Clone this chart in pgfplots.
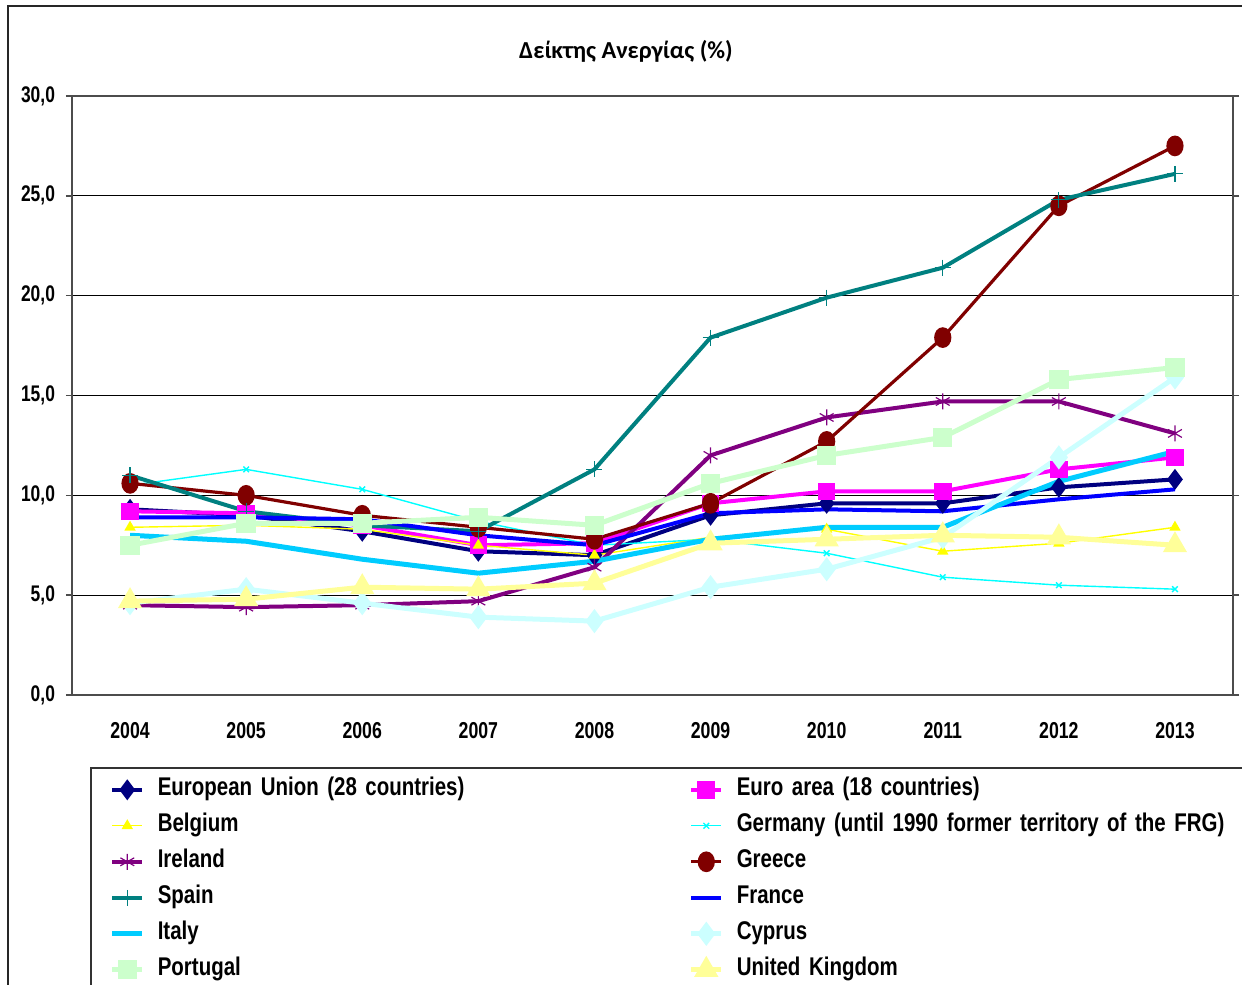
\documentclass[border=0pt]{standalone}
\usepackage{fontspec}
\setmainfont{Liberation Sans}
\newfontfamily\tickfont{Liberation Sans}[FakeStretch=0.77]
\newfontfamily\legfont{Liberation Sans}[FakeStretch=0.8]
\newfontfamily\titlefont{Carlito}
\usepackage{pgfplots}
\pgfplotsset{compat=1.18}
\definecolor{cEU}{RGB}{0,0,128}
\definecolor{cEA}{RGB}{255,0,255}
\definecolor{cBE}{RGB}{255,255,0}
\definecolor{cDE}{RGB}{0,255,255}
\definecolor{cIE}{RGB}{128,0,128}
\definecolor{cEL}{RGB}{128,0,0}
\definecolor{cES}{RGB}{0,128,128}
\definecolor{cFR}{RGB}{0,0,255}
\definecolor{cIT}{RGB}{0,204,255}
\definecolor{cCY}{RGB}{204,255,255}
\definecolor{cPT}{RGB}{204,255,204}
\definecolor{cUK}{RGB}{255,255,153}
\begin{document}
\begin{tikzpicture}
\path[use as bounding box] (0,0) rectangle (621pt,492.5pt);
\draw[line width=1pt, black!85] (4pt,-20pt) rectangle (700pt,489.5pt);
\node[font=\titlefont\bfseries\fontsize{12.2}{14}\selectfont] at (313pt,467pt) {Δείκτης Ανεργίας (\%)};
\begin{axis}[
  at={(36pt,145pt)}, anchor=south west,
  scale only axis, width=580.5pt, height=299.5pt,
  xmin=-0.5, xmax=9.5, ymin=0, ymax=30,
  xtick={0,...,9}, xticklabels={2004,2005,2006,2007,2008,2009,2010,2011,2012,2013},
  xtick style={draw=none},
  minor xtick={-0.5,0.5,...,9.5},
  minor tick length=3pt, major tick length=3pt, tick align=outside,
  ytick={0,5,...,30},
  ymajorgrids, grid style={black, line width=0.5pt},
  axis line style={gray!60!black, line width=0.8pt},
  tick style={gray!60!black, line width=0.8pt},
  xticklabel style={font=\tickfont\bfseries\fontsize{11.5}{13}\selectfont, yshift=-7pt},
  yticklabel style={font=\tickfont\bfseries\fontsize{11.3}{13}\selectfont, xshift=-2pt,
    /pgf/number format/fixed, /pgf/number format/fixed zerofill,
    /pgf/number format/precision=1, /pgf/number format/use comma,
    /pgf/number format/assume math mode=true},
  legend style={at={(0.0155,-0.1202)}, anchor=north west, draw=black!80, line width=0.8pt,
    fill=white, inner xsep=9.5pt, inner ysep=2pt, legend columns=2,
    font=\legfont\bfseries\fontsize{12.8}{15}\selectfont,
    nodes={inner sep=0pt, text height=12pt, text depth=6pt, text width=258pt, align=left},
    /tikz/every odd column/.append style={column sep=6.5pt},
    /tikz/every even column/.append style={column sep=7.5pt}},
  legend cell align=left,
  legend image code/.code={\draw[mark repeat=2, mark phase=2, #1] plot coordinates {(0pt,0pt) (7.5pt,0pt) (15pt,0pt)};},
]
\addplot[cEU, line width=2pt, mark=diamond*, mark size=3.6pt] coordinates {(0,9.3) (1,9.0) (2,8.2) (3,7.2) (4,7.0) (5,9.0) (6,9.6) (7,9.6) (8,10.4) (9,10.8)};
\addlegendentry{European Union (28 countries)}
\addplot[cEA, line width=2pt, mark=square*, mark size=3.4pt] coordinates {(0,9.2) (1,9.1) (2,8.5) (3,7.5) (4,7.6) (5,9.6) (6,10.2) (7,10.2) (8,11.3) (9,11.9)};
\addlegendentry{Euro area (18 countries)}
\addplot[cBE, line width=0.7pt, mark=triangle*, mark size=2.6pt] coordinates {(0,8.4) (1,8.5) (2,8.3) (3,7.5) (4,7.0) (5,7.9) (6,8.3) (7,7.2) (8,7.6) (9,8.4)};
\addlegendentry{Belgium}
\addplot[cDE, line width=0.7pt, mark=x, mark size=2pt] coordinates {(0,10.5) (1,11.3) (2,10.3) (3,8.7) (4,7.5) (5,7.8) (6,7.1) (7,5.9) (8,5.5) (9,5.3)};
\addlegendentry{Germany (until 1990 former territory of the FRG)}
\addplot[cIE, line width=2pt, mark=asterisk, mark size=4pt, mark options={line width=0.6pt}] coordinates {(0,4.5) (1,4.4) (2,4.5) (3,4.7) (4,6.4) (5,12.0) (6,13.9) (7,14.7) (8,14.7) (9,13.1)};
\addlegendentry{Ireland}
\addplot[cEL, line width=1.6pt, mark=*, mark size=3.5pt, mark options={yscale=1.25}] coordinates {(0,10.6) (1,10.0) (2,9.0) (3,8.4) (4,7.8) (5,9.6) (6,12.7) (7,17.9) (8,24.5) (9,27.5)};
\addlegendentry{Greece}
\addplot[cES, line width=2pt, mark=+, mark size=4pt, mark options={line width=0.6pt}] coordinates {(0,11.0) (1,9.2) (2,8.5) (3,8.2) (4,11.3) (5,17.9) (6,19.9) (7,21.4) (8,24.8) (9,26.1)};
\addlegendentry{Spain}
\addplot[cFR, line width=2pt] coordinates {(0,8.9) (1,8.9) (2,8.8) (3,8.0) (4,7.5) (5,9.1) (6,9.3) (7,9.2) (8,9.8) (9,10.3)};
\addlegendentry{France}
\addplot[cIT, line width=2.5pt] coordinates {(0,8.0) (1,7.7) (2,6.8) (3,6.1) (4,6.7) (5,7.8) (6,8.4) (7,8.4) (8,10.7) (9,12.2)};
\addlegendentry{Italy}
\addplot[cCY, line width=2.5pt, mark=diamond*, mark size=4pt] coordinates {(0,4.6) (1,5.3) (2,4.6) (3,3.9) (4,3.7) (5,5.4) (6,6.3) (7,7.9) (8,11.9) (9,15.9)};
\addlegendentry{Cyprus}
\addplot[cPT, line width=2.5pt, mark=square*, mark size=3.6pt] coordinates {(0,7.5) (1,8.6) (2,8.6) (3,8.9) (4,8.5) (5,10.6) (6,12.0) (7,12.9) (8,15.8) (9,16.4)};
\addlegendentry{Portugal}
\addplot[cUK, line width=2.5pt, mark=triangle*, mark size=4.5pt] coordinates {(0,4.7) (1,4.8) (2,5.4) (3,5.3) (4,5.6) (5,7.6) (6,7.8) (7,8.0) (8,7.9) (9,7.5)};
\addlegendentry{United Kingdom}
\end{axis}
\end{tikzpicture}
\end{document}
